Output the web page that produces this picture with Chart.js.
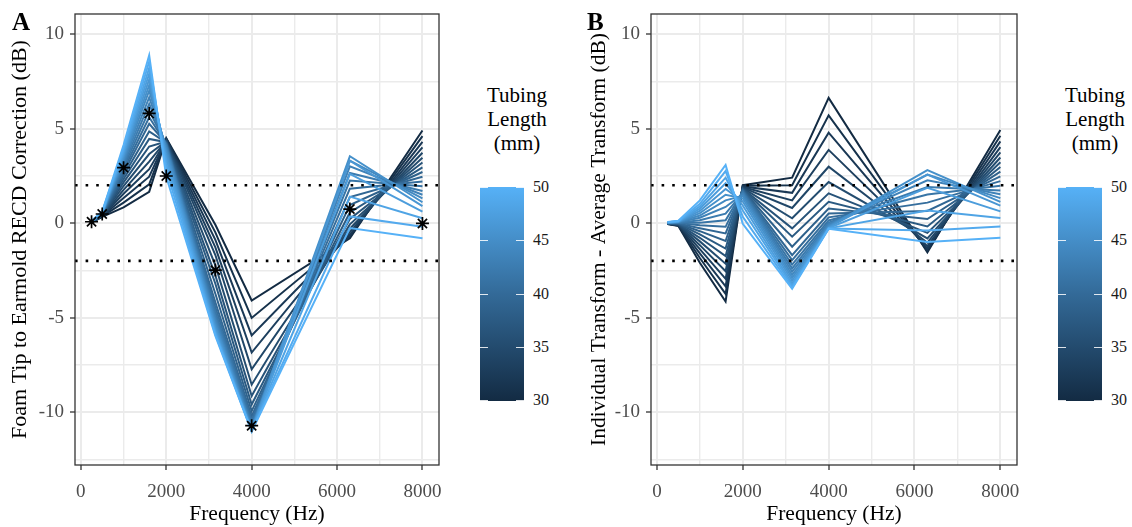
<!DOCTYPE html>
<html>
<head>
<meta charset="utf-8">
<script src="https://cdn.jsdelivr.net/npm/chart.js@4.4.0/dist/chart.umd.min.js"></script>
<style>
  body { margin: 0; background: #fff; width: 1132px; height: 527px; overflow: hidden; position: relative; font-family: "Liberation Serif", serif; }
  canvas { position: absolute; top: 0; }
  .panel-tag { position: absolute; font-weight: bold; font-size: 25px; color: #000; line-height: 1; }
  .leg-title { position: absolute; width: 120px; text-align: center; font-size: 21px; line-height: 24px; color: #000; }
  .leg-bar { position: absolute; width: 44px; height: 214px; background: linear-gradient(to top, #132B43, #336A98, #56B1F7); }
  .leg-tick { position: absolute; width: 8px; height: 1px; background: rgba(255,255,255,0.85); }
  .leg-label { position: absolute; font-size: 16px; line-height: 16px; color: #1a1a1a; }
</style>
</head>
<body>
<canvas id="chartA" width="450" height="527" style="left:0px"></canvas>
<canvas id="chartB" width="450" height="527" style="left:580px"></canvas>
<div class="panel-tag" style="left:12px; top:9px">A</div>
<div class="panel-tag" style="left:587px; top:9px">B</div>

<script>
// Frequencies (Hz) and tubing lengths (mm)
const frequencies = [250, 500, 1000, 1600, 2000, 3150, 4000, 6300, 8000];
const tubingLengths = [30, 31, 32, 33, 34, 35, 36, 37, 38, 39, 40, 41, 42, 43, 44, 45, 46, 47, 48, 49, 50];

// Average transform (asterisks in panel A)
const averageTransform = [0.07, 0.48, 2.93, 5.80, 2.49, -2.49, -10.72, 0.74, -0.02];

// Foam tip to earmold correction per frequency, one value per tubing length (30..50 mm)
const at250  = [0.02, 0.02, 0.03, 0.03, 0.04, 0.04, 0.05, 0.05, 0.06, 0.06, 0.07, 0.07, 0.08, 0.08, 0.09, 0.09, 0.10, 0.10, 0.11, 0.11, 0.12];
const at500  = [0.33, 0.35, 0.36, 0.38, 0.39, 0.41, 0.42, 0.44, 0.45, 0.46, 0.48, 0.49, 0.50, 0.52, 0.53, 0.54, 0.55, 0.56, 0.57, 0.59, 0.60];
const at1000 = [0.83, 1.08, 1.33, 1.55, 1.76, 1.96, 2.15, 2.33, 2.50, 2.66, 2.81, 2.95, 3.08, 3.21, 3.33, 3.45, 3.57, 3.69, 3.81, 3.95, 4.13];
const at1600 = [1.65, 2.05, 2.45, 2.85, 3.25, 3.65, 4.05, 4.45, 4.85, 5.25, 5.60, 5.95, 6.30, 6.65, 7.00, 7.30, 7.60, 7.90, 8.20, 8.55, 8.87];
const at2000 = [4.49, 4.46, 4.43, 4.40, 4.37, 4.34, 4.31, 4.28, 4.25, 4.22, 4.19, 4.15, 4.10, 4.03, 3.93, 3.80, 3.63, 3.42, 3.15, 2.82, 2.45];
const at3150 = [-0.09, -0.49, -0.89, -1.29, -1.69, -2.24, -2.77, -3.21, -3.74, -4.19, -4.45, -4.69, -4.89, -5.07, -5.24, -5.39, -5.54, -5.69, -5.79, -5.89, -5.97];
const at4000 = [-4.10, -5.02, -5.94, -6.85, -7.74, -8.55, -9.15, -9.60, -9.95, -10.22, -10.42, -10.58, -10.70, -10.79, -10.86, -10.91, -10.95, -10.98, -11.00, -11.01, -11.02];
const at6300 = [-0.81, -0.72, -0.62, -0.48, -0.30, -0.07, 0.22, 0.56, 0.95, 1.38, 1.82, 2.25, 2.65, 3.00, 3.30, 3.54, 3.30, 2.60, 1.40, 0.35, -0.26];
const at8000 = [4.90, 4.60, 4.30, 4.00, 3.72, 3.45, 3.20, 2.95, 2.70, 2.45, 2.20, 1.95, 1.70, 1.50, 1.30, 1.10, 0.90, 0.60, 0.25, -0.20, -0.80];
const correctionByFrequency = [at250, at500, at1000, at1600, at2000, at3150, at4000, at6300, at8000];

// Axes
const xMajorTicks = [0, 2000, 4000, 6000, 8000];
const xMinorTicks = [1000, 3000, 5000, 7000];
const yMajorTicks = [-10, -5, 0, 5, 10];
const yMinorTicks = [-12.5, -7.5, -2.5, 2.5, 7.5];
const referenceLines = [-2, 2];
const legendTicks = [30, 35, 40, 45, 50];

const X_MIN = -137.5, X_MAX = 8387.5;
const Y_MIN = -12.8, Y_MAX = 11.06;

const lowColor = [0x13, 0x2B, 0x43];
const highColor = [0x56, 0xB1, 0xF7];

function lengthColor(len) {
  const t = (len - 30) / 20;
  const c = lowColor.map((v, k) => Math.round(v + (highColor[k] - v) * t));
  return `rgb(${c[0]}, ${c[1]}, ${c[2]})`;
}

// Panel frame + dotted reference lines
const framePlugin = {
  id: 'frame',
  afterDatasetsDraw(chart) {
    const { ctx, chartArea, scales } = chart;
    ctx.save();
    ctx.strokeStyle = '#000';
    ctx.lineWidth = 2.6;
    ctx.setLineDash([2.6, 8]);
    referenceLines.forEach(v => {
      const y = scales.y.getPixelForValue(v);
      ctx.beginPath();
      ctx.moveTo(chartArea.left, y);
      ctx.lineTo(chartArea.right, y);
      ctx.stroke();
    });
    ctx.setLineDash([]);
    ctx.strokeStyle = '#333333';
    ctx.lineWidth = 1.3;
    ctx.strokeRect(chartArea.left, chartArea.top, chartArea.right - chartArea.left, chartArea.bottom - chartArea.top);
    ctx.restore();
  }
};

const tickFont = { family: 'Liberation Serif', size: 19 };
const xTitleFont = { family: 'Liberation Serif', size: 21.5 };

// fixed axis sizes, no extra label padding so the plot area lands where the reference has it
function fixAxis(size) {
  return s => {
    if (s.isHorizontal()) s.height = size; else s.width = size;
    s.paddingTop = 0; s.paddingBottom = 0; s.paddingLeft = 0; s.paddingRight = 0;
  };
}

function buildOptions(yTitle, yTitleSize, yWidth, rightPad, titlePad) {
  return {
    responsive: false,
    animation: false,
    layout: { padding: { left: 0, right: rightPad, top: 14, bottom: 0 } },
    plugins: { legend: { display: false }, tooltip: { enabled: false } },
    elements: { line: { tension: 0 } },
    scales: {
      x: {
        type: 'linear',
        min: X_MIN,
        max: X_MAX,
        afterBuildTicks: s => { s.ticks = xMajorTicks.concat(xMinorTicks).sort((a, b) => a - b).map(v => ({ value: v })); },
        afterFit: fixAxis(62),
        ticks: {
          autoSkip: false, maxRotation: 0, color: '#4D4D4D', font: tickFont, padding: 11,
          callback: v => xMajorTicks.includes(v) ? String(v) : ''
        },
        grid: {
          color: '#EBEBEB',
          lineWidth: c => xMajorTicks.includes(c.tick && c.tick.value) ? 2 : 1.4,
          tickColor: c => xMajorTicks.includes(c.tick && c.tick.value) ? '#333333' : 'rgba(0,0,0,0)',
          tickLength: 5,
          tickWidth: 1.3
        },
        border: { display: false },
        title: { display: true, text: 'Frequency (Hz)', color: '#000', font: xTitleFont, padding: { top: 0, bottom: 0 } }
      },
      y: {
        type: 'linear',
        min: Y_MIN,
        max: Y_MAX,
        afterBuildTicks: s => { s.ticks = yMajorTicks.concat(yMinorTicks).sort((a, b) => a - b).map(v => ({ value: v })); },
        afterFit: fixAxis(yWidth),
        ticks: {
          autoSkip: false, color: '#4D4D4D', font: tickFont, padding: 6,
          callback: v => yMajorTicks.includes(v) ? String(v) : ''
        },
        grid: {
          color: '#EBEBEB',
          lineWidth: c => yMajorTicks.includes(c.tick && c.tick.value) ? 2 : 1.4,
          tickColor: c => yMajorTicks.includes(c.tick && c.tick.value) ? '#333333' : 'rgba(0,0,0,0)',
          tickLength: 5,
          tickWidth: 1.3
        },
        border: { display: false },
        title: {
          display: true, text: yTitle, color: '#000',
          font: { family: 'Liberation Serif', size: yTitleSize },
          padding: { top: titlePad, bottom: 0 }
        }
      }
    }
  };
}

function lineDatasets(valueFor) {
  return tubingLengths.map((len, i) => ({
    type: 'line',
    label: len + ' mm',
    data: frequencies.map((f, j) => ({ x: f, y: valueFor(i, j) })),
    borderColor: lengthColor(len),
    borderWidth: 2,
    pointRadius: 0,
    fill: false,
    order: 50 - len + 1
  }));
}

// Panel A: correction per tubing length plus average transform
const datasetsA = lineDatasets((i, j) => correctionByFrequency[j][i]);
datasetsA.push({
  type: 'scatter',
  label: 'Average',
  data: frequencies.map((f, j) => ({ x: f, y: averageTransform[j] })),
  pointStyle: 'star',
  pointRadius: 6.5,
  borderColor: '#000',
  backgroundColor: '#000',
  borderWidth: 1.7,
  order: 0
});

// Panel B: individual transform minus average transform
const datasetsB = lineDatasets((i, j) => correctionByFrequency[j][i] - averageTransform[j]);

new Chart(document.getElementById('chartA'), {
  type: 'line',
  data: { datasets: datasetsA },
  options: buildOptions('Foam Tip to Earmold RECD Correction (dB)', 22, 75, 11, 7),
  plugins: [framePlugin]
});

new Chart(document.getElementById('chartB'), {
  type: 'line',
  data: { datasets: datasetsB },
  options: buildOptions('Individual Transform - Average Transform (dB)', 21.5, 71, 13, 6),
  plugins: [framePlugin]
});

// Colour bar legends
function addLegend(barLeft, titleCenter) {
  const title = document.createElement('div');
  title.className = 'leg-title';
  title.style.left = (titleCenter - 60) + 'px';
  title.style.top = '83px';
  title.innerHTML = 'Tubing<br>Length<br>(mm)';
  document.body.appendChild(title);

  const barTop = 187, barHeight = 214;
  const bar = document.createElement('div');
  bar.className = 'leg-bar';
  bar.style.left = barLeft + 'px';
  bar.style.top = barTop + 'px';
  document.body.appendChild(bar);

  legendTicks.forEach(v => {
    const y = barTop + (50 - v) / 20 * (barHeight - 1);
    [barLeft, barLeft + 36].forEach(x => {
      const t = document.createElement('div');
      t.className = 'leg-tick';
      t.style.left = x + 'px';
      t.style.top = Math.round(y) + 'px';
      document.body.appendChild(t);
    });
    const lab = document.createElement('div');
    lab.className = 'leg-label';
    lab.textContent = String(v);
    lab.style.left = (barLeft + 53) + 'px';
    lab.style.top = (Math.round(y) - 8) + 'px';
    document.body.appendChild(lab);
  });
}

addLegend(480, 517);
addLegend(1058, 1095);
</script>
</body>
</html>
